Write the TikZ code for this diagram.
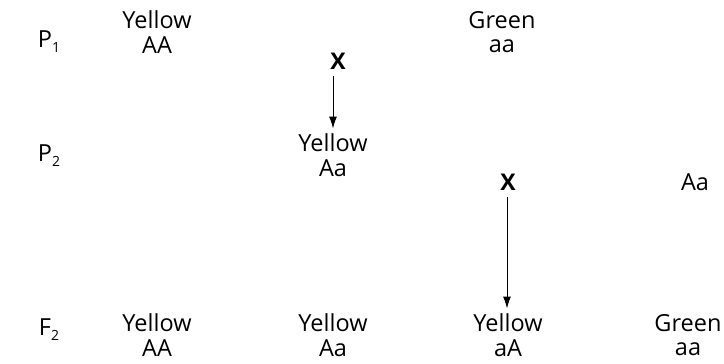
\documentclass[tikz,border=0pt]{standalone}
\usepackage{fontspec}
\setmainfont{Open Sans}
\usetikzlibrary{arrows.meta}

\newcommand{\gensub}[2]{#1\raisebox{-5pt}{\fontsize{14}{14}\selectfont #2}}

\begin{document}
\begin{tikzpicture}[x=1pt, y=-1pt,
        every node/.style={inner sep=0pt, font=\fontsize{23.5}{24.5}\selectfont},
        plant/.style={align=center},
        cross/.style={font=\fontsize{23}{24}\selectfont\bfseries},
        gen/.style={anchor=center},
        descent/.style={-{Latex[length=12pt, width=8pt]}, line width=1pt}]
                \useasboundingbox (0, 0) rectangle (724, 364);
                % generation labels
                \node [gen] (p1) at (49, 42) {\gensub{P}{1}};
                \node [gen] (p2) at (49, 156) {\gensub{P}{2}};
                \node [gen] (f2) at (49, 330) {\gensub{F}{2}};
                % first cross
                \node [plant] (yAA) at (157, 32) {Yellow\\AA};
                \node [cross] (x1) at (338, 61) {X};
                \node [plant] (gaa) at (502, 32) {Green\\aa};
                % second cross
                \node [plant] (yAa) at (333, 155) {Yellow\\Aa};
                \node [cross] (x2) at (508, 182) {X};
                \node [plant] (rAa) at (695, 182) {Aa};
                % offspring
                \node [plant] (o1) at (157, 335) {Yellow\\AA};
                \node [plant] (o2) at (333, 335) {Yellow\\Aa};
                \node [plant] (o3) at (508, 335) {Yellow\\aA};
                \node [plant] (o4) at (688, 335) {Green\\aa};
                \draw [descent] ([yshift=-7pt]x1.south -| yAa.north) -- ([yshift=5pt]yAa.north);
                \draw [descent] ([xshift=-1pt, yshift=-7pt]x2.south) -- ([xshift=-1pt, yshift=5pt]x2.south |- o3.north);
            \end{tikzpicture}
\end{document}
